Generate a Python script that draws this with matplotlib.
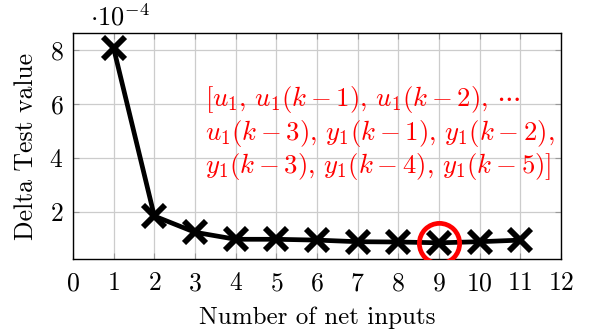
import numpy as np
import matplotlib.pyplot as plt

plt.rcParams['font.family'] = ['cmr10', 'DejaVu Serif']
plt.rcParams['mathtext.fontset'] = 'cm'
plt.rcParams['axes.formatter.use_mathtext'] = True

n_inputs = [1, 2, 3, 4, 5, 6, 7, 8, 9, 10, 11]
delta = [8.06, 1.85, 1.25, 0.99, 0.99, 0.96, 0.90, 0.89, 0.86, 0.90, 0.96]
best = 9
best_val = delta[n_inputs.index(best)]

fig = plt.figure(figsize=(6.05, 3.32), dpi=100)
ax = fig.add_axes([73 / 605, 1 - 259 / 332, 488 / 605, 226 / 332])

ax.plot(n_inputs, delta, color='black', lw=3.4, marker='x', ms=16, mew=4.2,
        zorder=3)
ax.plot([best], [best_val], 'o', ms=29, mfc='none', mec='red', mew=3.4,
        zorder=4)

ax.set_xlim(0, 12)
ax.set_ylim(0.26, 8.63)
ax.set_xticks(range(0, 13))
ax.set_yticks([2, 4, 6, 8])
ax.grid(True, color='#cccccc', lw=0.9)
ax.set_axisbelow(True)
ax.tick_params(direction='in', labelsize=18.5, top=True, right=True,
               length=4, color='#999999')
ax.tick_params(axis='x', pad=9)
ax.tick_params(axis='y', pad=7)
for s in ax.spines.values():
    s.set_linewidth(1.0)

ax.set_xlabel('Number of net inputs', fontsize=18, labelpad=8)
ax.set_ylabel('Delta Test value', fontsize=18.5, labelpad=8)
ax.text(0.035, 1.01, r'$\cdot 10^{-4}$', transform=ax.transAxes, fontsize=19,
        ha='left', va='bottom')

note = (r'$[u_1,\, u_1(k-1),\, u_1(k-2),\, \cdots$' '\n'
        r'$u_1(k-3),\, y_1(k-1),\, y_1(k-2),$' '\n'
        r'$y_1(k-3),\, y_1(k-4),\, y_1(k-5)]$')
ax.text(3.25, 6.75, note, color='red', fontsize=19.3, ha='left', va='top',
        linespacing=1.13)

fig.savefig('out.png', dpi=100)
